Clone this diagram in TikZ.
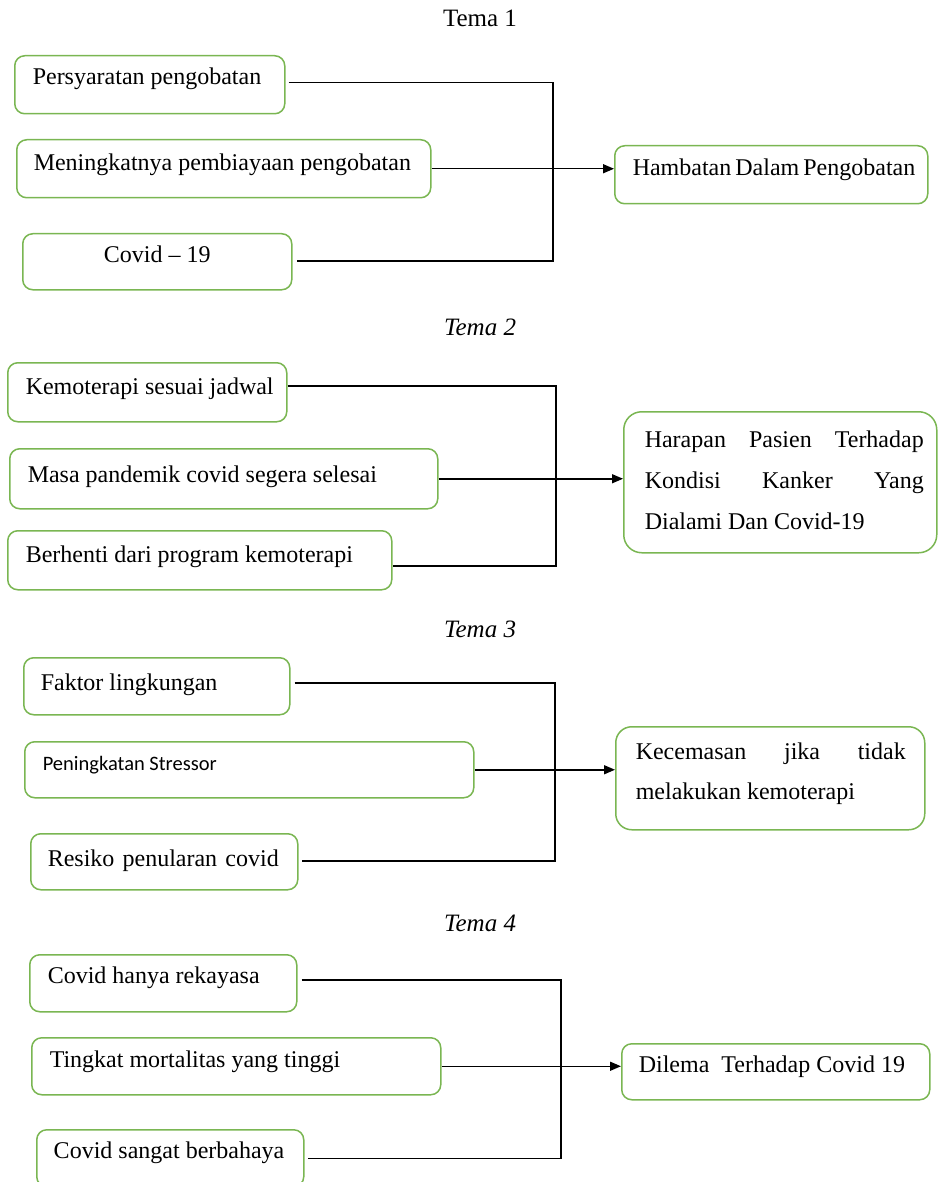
\documentclass[tikz,border=0pt]{standalone}
\usepackage{fontspec}
\setmainfont{Liberation Serif}
\newfontfamily\calfont{Carlito}
\usetikzlibrary{arrows.meta}
\definecolor{boxgreen}{RGB}{122,182,82}
\newcommand{\bodyf}{\fontsize{24}{41}\selectfont}
\begin{document}
\begin{tikzpicture}[x=1pt,y=-1pt,
  box/.style={draw=boxgreen, line width=1.5pt, rounded corners=10pt, anchor=north west, inner sep=0pt, font=\bodyf},
  ln/.style={draw=black, line width=1.5pt},
  arr/.style={ln, -{Triangle[length=11pt,width=9pt]}},
  tema/.style={anchor=base, inner sep=0pt, font=\fontsize{25}{30}\selectfont}]
\clip (0,0) rectangle (939,1182);

% ---------- Tema 1 ----------
\node[tema] (t1) at (480,27) {Tema 1};
\node[box, text height=29pt, text depth=29pt] (a1) at (14,55) {\makebox[270pt][l]{\hspace{18pt}Persyaratan pengobatan}};
\node[box, text height=31pt, text depth=27pt] (a2) at (16,139) {\makebox[414pt][l]{\hspace{17pt}Meningkatnya pembiayaan pengobatan}};
\node[box, text height=29pt, text depth=27pt] (a3) at (22,233) {\makebox[269pt][c]{Covid -- 19}};
\node[box, text height=30pt, text depth=28pt] (h1) at (614,145) {\makebox[313pt][l]{\hspace{18pt}\makebox[276pt][s]{Hambatan Dalam Pengobatan}}};
\coordinate (v1) at (553,0);
\draw[ln] ([xshift=3pt,yshift=2pt]a1.east) -- ([yshift=2pt]a1.east -| v1) -- ([yshift=1pt]a3.east -| v1) -- ([xshift=4pt,yshift=1pt]a3.east);
\draw[arr] (a2.east) -- (a2.east -| h1.west);

% ---------- Tema 2 ----------
\node[tema] (t2) at (480,335) {\itshape Tema 2};
\node[box, text height=32pt, text depth=27pt] (b1) at (7,362) {\makebox[279pt][l]{\hspace{18pt}Kemoterapi sesuai jadwal}};
\node[box, text height=34pt, text depth=26pt] (b2) at (9,448) {\makebox[428pt][l]{\hspace{18pt}Masa pandemik covid segera selesai}};
\node[box, text height=32pt, text depth=27pt] (b3) at (7,530) {\makebox[384pt][l]{\hspace{18pt}Berhenti dari program kemoterapi}};
\node[box, rounded corners=18pt, text height=36pt, text depth=105pt] (h2) at (623,411) {\makebox[313pt][l]{\hspace{21pt}\parbox[t]{279pt}{Harapan\hfill Pasien\hfill Terhadap\\ Kondisi\hfill Kanker\hfill Yang\\ Dialami Dan Covid-19}}};
\coordinate (v2) at (556,0);
\draw[ln] ([yshift=6.5pt]b1.east) -- ([yshift=6.5pt]b1.east -| v2) -- ([yshift=-5.5pt]b3.east -| v2) -- ([yshift=-5.5pt]b3.east);
\draw[arr] (b2.east) -- (b2.east -| h2.west);

% ---------- Tema 3 ----------
\node[tema] (t3) at (480,637) {\itshape Tema 3};
\node[box, text height=33pt, text depth=24pt] (d1) at (23,657) {\makebox[266pt][l]{\hspace{17pt}Faktor lingkungan}};
\node[box, text height=29pt, text depth=27pt] (d2) at (24,741) {\makebox[449pt][l]{\hspace{18pt}\calfont\fontsize{20.5}{24}\selectfont Peningkatan Stressor}};
\node[box, text height=33pt, text depth=23pt] (d3) at (30,833) {\makebox[267pt][l]{\hspace{17pt}\makebox[231pt][s]{Resiko penularan covid}}};
\node[box, rounded corners=16pt, text height=33pt, text depth=70pt, font=\fontsize{24}{40}\selectfont] (h3) at (615,726) {\makebox[309pt][l]{\hspace{20pt}\parbox[t]{270pt}{Kecemasan\hfill jika\hfill tidak\\ melakukan kemoterapi}}};
\coordinate (v3) at (555,0);
\draw[ln] ([xshift=4pt,yshift=3.5pt]d1.east) -- ([yshift=3.5pt]d1.east -| v3) -- ([yshift=1pt]d3.east -| v3) -- ([xshift=3pt,yshift=1pt]d3.east);
\draw[arr] (d2.east) -- (d2.east -| h3.west);

% ---------- Tema 4 ----------
\node[tema] (t4) at (480,931) {\itshape Tema 4};
\node[box, text height=29pt, text depth=28pt] (e1) at (29,954) {\makebox[267pt][l]{\hspace{18pt}Covid hanya rekayasa}};
\node[box, text height=30pt, text depth=27pt] (e2) at (31,1037) {\makebox[409pt][l]{\hspace{18pt}Tingkat mortalitas yang tinggi}};
\node[box, text height=29pt, text depth=28pt] (e3) at (36,1129) {\makebox[267pt][l]{\hspace{17pt}Covid sangat berbahaya}};
\node[box, text height=29pt, text depth=27pt] (h4) at (621,1043) {\makebox[308pt][l]{\hspace{17pt}Dilema\ \ Terhadap Covid 19}};
\coordinate (v4) at (561,0);
\draw[ln] ([xshift=4pt,yshift=3.5pt]e1.east) -- ([yshift=3.5pt]e1.east -| v4) -- (e3.east -| v4) -- ([xshift=3pt]e3.east);
\draw[arr] (e2.east) -- (e2.east -| h4.west);
\end{tikzpicture}
\end{document}
